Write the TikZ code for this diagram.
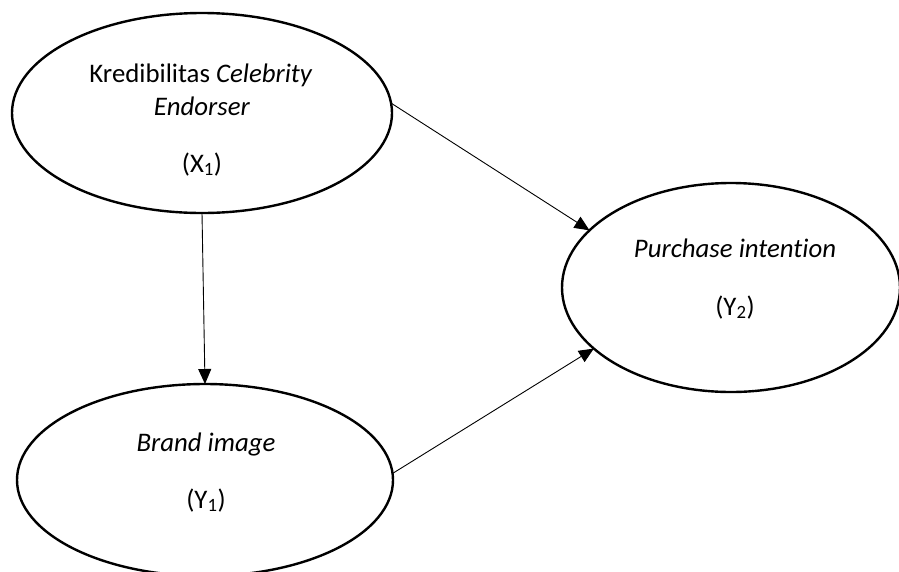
\documentclass[tikz,border=0pt]{standalone}
\usepackage{fontspec}
\setmainfont[Ligatures=NoCommon]{Carlito}
\usetikzlibrary{shapes.geometric,arrows.meta}
\begin{document}
\begin{tikzpicture}[x=1pt,y=-1pt,
  construct/.style={ellipse,draw,line width=2.4pt,inner sep=0pt,outer sep=0pt},
  lbl/.style={anchor=base,inner sep=0pt,font=\fontsize{26.8}{32}\selectfont},
  path/.style={line width=0.9pt,-{Triangle[length=15pt,width=13pt]}}]
\useasboundingbox (0,0) rectangle (899,571);
\node[construct,minimum width=380pt,minimum height=200pt] (x1) at (202,113) {};
\node[construct,minimum width=376pt,minimum height=192pt] (y1) at (205,480) {};
\node[construct,minimum width=338pt,minimum height=209pt] (y2) at (731,287.5) {};
\node[lbl] (t1a) at (201,82) {Kredibilitas \textit{Celebrity}};
\node[lbl] (t1b) at (202,115) {\textit{Endorser}};
\node[lbl] (t1c) at (202,172) {(X\textsubscript{1})};
\node[lbl] (t2a) at (206,451) {\textit{Brand image}};
\node[lbl] (t2b) at (206,508) {(Y\textsubscript{1})};
\node[lbl] (t3a) at (735,257) {\textit{Purchase intention}};
\node[lbl] (t3b) at (735,315) {(Y\textsubscript{2})};
\draw[path] (x1.south) -- (y1.north);
\draw[path] (x1.3) -- (y2.158.9);
\draw[path] (y1.2) -- (y2.204.7);
\end{tikzpicture}
\end{document}
